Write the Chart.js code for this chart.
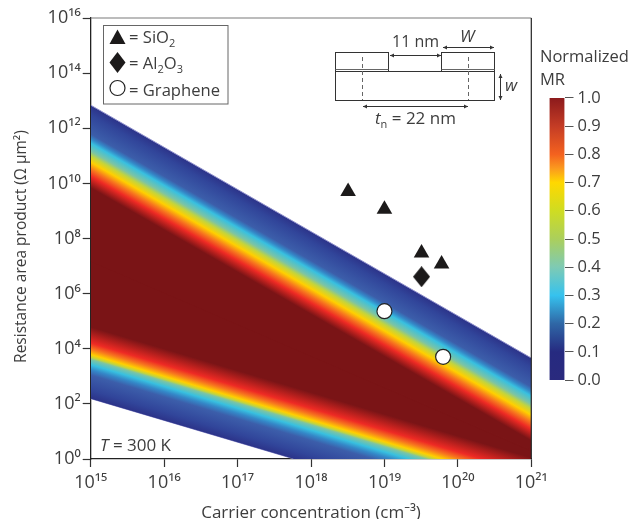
<!DOCTYPE html>
<html>
<head>
<meta charset="utf-8">
<script src="https://cdn.jsdelivr.net/npm/chart.js@4"></script>
<style>
    html, body { margin: 0; padding: 0; background: #fff; }
    #wrap { position: relative; width: 631px; height: 519px; overflow: hidden; }
    #canvasChart { position: absolute; left: 0; top: 0; }
    #canvasBar { position: absolute; left: 540px; top: 84px; }
</style>
</head>
<body>
<div id="wrap">
    <canvas id="canvasChart" width="631" height="519"></canvas>
    <canvas id="canvasBar" width="91" height="310"></canvas>
</div>
<script>
const xTicks = [1e15, 1e16, 1e17, 1e18, 1e19, 1e20, 1e21];
const xTickLabels = ['10¹⁵', '10¹⁶', '10¹⁷', '10¹⁸', '10¹⁹', '10²⁰', '10²¹'];
const yTicks = [1e0, 1e2, 1e4, 1e6, 1e8, 1e10, 1e12, 1e14, 1e16];
const yTickLabels = ['10⁰', '10²', '10⁴', '10⁶', '10⁸', '10¹⁰', '10¹²', '10¹⁴', '10¹⁶'];

// edges of the coloured region, at 1e15 and 1e21
const edgeX = [1e15, 1e21];
const upperEdge = [6.9e12, 4.6e3];
const middleLine = [1.6e7, 2.1];
const lowerEdge = [155, 0.0028];

// decades below the upper edge / above the lower edge for each colour
const upperDepth = [0, 0.35, 1.05, 1.22, 1.38, 1.67, 1.85, 2.07, 2.32, 2.58, 3.0];
const lowerDepth = [0, 0.3, 0.85, 1.05, 1.23, 1.42, 1.5, 1.6, 1.8, 2.02, 2.6];
const bandColors = ['#2c3389', '#31459a', '#3c5eaa', '#3488c8', '#38c0e0', '#7cc4a4', '#c4d43c', '#ffd000', '#f7771e', '#ee2a24', '#7a1416'];

const sio2X = [3.2e18, 1e19, 3.2e19, 6e19];
const sio2Y = [5.05e9, 1.16e9, 3e7, 1.2e7];
const al2o3X = [3.2e19];
const al2o3Y = [4.1e6];
const grapheneX = [1e19, 6.3e19];
const grapheneY = [2.3e5, 5.1e3];

const mrTicks = [0, 0.1, 0.2, 0.3, 0.4, 0.5, 0.6, 0.7, 0.8, 0.9, 1];
const mrStops = [0, 0.1, 0.2, 0.3, 0.4, 0.5, 0.6, 0.7, 0.75, 0.8, 0.9, 1];
const mrColors = ['#2a2a7e', '#262a80', '#2f67a6', '#36c2ee', '#7ecab4', '#abcf5c', '#cfdc22', '#ffd800', '#fb9a1e', '#f4621f', '#c43c25', '#8c1a1c'];

const TEXT = '#3d3d3d';
const FONT = '"Open Sans", "Noto Sans", sans-serif';

const toPoints = (xs, ys) => xs.map((x, i) => ({ x, y: ys[i] }));

// linear gradient running across a sloped band, from the edge inwards
const bandGradient = (chart, edge, depth, dir) => {
    const { ctx, scales } = chart;
    if (!chart.chartArea)
        return bandColors[bandColors.length - 1];
    const x0 = scales.x.getPixelForValue(edgeX[0]);
    const x1 = scales.x.getPixelForValue(edgeX[1]);
    const y0 = scales.y.getPixelForValue(edge[0]);
    const y1 = scales.y.getPixelForValue(edge[1]);
    const slope = (y1 - y0) / (x1 - x0);
    const pxDecade = Math.abs(scales.y.getPixelForValue(1) - scales.y.getPixelForValue(10));
    const total = depth[depth.length - 1] * pxDecade;
    const k = dir * total / (1 + slope * slope);
    const g = ctx.createLinearGradient(x0, y0, x0 - slope * k, y0 + k);
    depth.forEach((d, i) => g.addColorStop(d / depth[depth.length - 1], bandColors[i]));
    return g;
};

// the oxide diamond is taller than it is wide, rectRot can't do that
const diamondMarker = (w, h) => {
    const c = document.createElement('canvas');
    c.width = w;
    c.height = h;
    const g = c.getContext('2d');
    g.fillStyle = '#1c1a1a';
    g.beginPath();
    g.moveTo(w / 2, 0);
    g.lineTo(w, h / 2);
    g.lineTo(w / 2, h);
    g.lineTo(0, h / 2);
    g.closePath();
    g.fill();
    return c;
};

const drawArrow = (ctx, x1, y1, x2, y2) => {
    ctx.beginPath();
    ctx.moveTo(x1, y1);
    ctx.lineTo(x2, y2);
    ctx.stroke();
    const head = (x, y, dx, dy) => {
        ctx.beginPath();
        ctx.moveTo(x, y);
        ctx.lineTo(x - dx * 4 - dy * 2, y - dy * 4 - dx * 2);
        ctx.lineTo(x - dx * 4 + dy * 2, y - dy * 4 + dx * 2);
        ctx.closePath();
        ctx.fill();
    };
    const horizontal = y1 === y2;
    head(x1, y1, horizontal ? -1 : 0, horizontal ? 0 : -1);
    head(x2, y2, horizontal ? 1 : 0, horizontal ? 0 : 1);
};

const textRuns = (ctx, x, y, runs) => {
    ctx.textAlign = 'left';
    ctx.textBaseline = 'alphabetic';
    runs.forEach(r => {
        ctx.font = (r.italic ? 'italic ' : '') + r.size + 'px ' + FONT;
        ctx.fillText(r.text, x, y + (r.dy || 0));
        x += ctx.measureText(r.text).width;
    });
};

// frame, legend box, inset schematic and free text
const annotations = {
    id: 'annotations',
    afterDraw(chart) {
        const { ctx, chartArea: a } = chart;
        ctx.save();

        ctx.strokeStyle = '#7a7a7a';
        ctx.lineWidth = 1.2;
        ctx.beginPath();
        ctx.moveTo(a.left, a.top);
        ctx.lineTo(a.right, a.top);
        ctx.stroke();
        ctx.strokeStyle = '#222';
        ctx.beginPath();
        ctx.moveTo(a.right, a.top);
        ctx.lineTo(a.right, a.bottom);
        ctx.stroke();

        // legend
        ctx.strokeStyle = '#666';
        ctx.fillStyle = '#fff';
        ctx.lineWidth = 1;
        ctx.fillRect(103.5, 25.5, 124.5, 78.5);
        ctx.strokeRect(103.5, 25.5, 124.5, 78.5);
        ctx.fillStyle = '#1c1a1a';
        ctx.beginPath();
        ctx.moveTo(117.5, 29.5);
        ctx.lineTo(125.5, 44);
        ctx.lineTo(109.5, 44);
        ctx.closePath();
        ctx.fill();
        ctx.beginPath();
        ctx.moveTo(117.5, 52);
        ctx.lineTo(125.5, 62.5);
        ctx.lineTo(117.5, 73);
        ctx.lineTo(109.5, 62.5);
        ctx.closePath();
        ctx.fill();
        ctx.beginPath();
        ctx.arc(117.5, 88, 7.5, 0, Math.PI * 2);
        ctx.fillStyle = '#fff';
        ctx.fill();
        ctx.strokeStyle = '#222';
        ctx.lineWidth = 1.2;
        ctx.stroke();

        ctx.fillStyle = TEXT;
        textRuns(ctx, 129, 43, [{ text: '= SiO', size: 16.6 }, { text: '2', size: 11, dy: 4 }]);
        textRuns(ctx, 129, 69, [{ text: '= Al', size: 16.6 }, { text: '2', size: 11, dy: 4 }, { text: 'O', size: 16.6 }, { text: '3', size: 11, dy: 4 }]);
        textRuns(ctx, 129, 96, [{ text: '= Graphene', size: 16.6 }]);
        textRuns(ctx, 100, 451, [{ text: 'T', size: 17, italic: true }, { text: ' = 300 K', size: 17 }]);
        textRuns(ctx, 540, 62, [{ text: 'Normalized', size: 16.5 }]);
        textRuns(ctx, 540, 85, [{ text: 'MR', size: 16.5 }]);

        // inset
        ctx.strokeStyle = '#333';
        ctx.lineWidth = 1;
        ctx.strokeRect(335.5, 52.5, 53, 19);
        ctx.strokeRect(441.5, 52.5, 53, 19);
        ctx.strokeRect(335.5, 71.5, 159, 29);
        ctx.strokeStyle = '#666';
        ctx.beginPath();
        ctx.moveTo(335.5, 69.5);
        ctx.lineTo(388.5, 69.5);
        ctx.moveTo(441.5, 69.5);
        ctx.lineTo(494.5, 69.5);
        ctx.stroke();
        ctx.setLineDash([4, 3]);
        ctx.beginPath();
        ctx.moveTo(362.5, 57);
        ctx.lineTo(362.5, 100);
        ctx.moveTo(468.5, 57);
        ctx.lineTo(468.5, 100);
        ctx.stroke();
        ctx.setLineDash([]);
        ctx.strokeStyle = '#333';
        ctx.fillStyle = '#333';
        drawArrow(ctx, 390, 55.5, 441, 55.5);
        drawArrow(ctx, 443, 47.5, 494, 47.5);
        drawArrow(ctx, 363, 106.5, 468, 106.5);
        drawArrow(ctx, 500.5, 74, 500.5, 100);
        ctx.fillStyle = TEXT;
        textRuns(ctx, 392, 47, [{ text: '11 nm', size: 16 }]);
        textRuns(ctx, 460, 42, [{ text: 'W', size: 17, italic: true }]);
        textRuns(ctx, 505, 91, [{ text: 'w', size: 17, italic: true }]);
        textRuns(ctx, 375, 124, [{ text: 't', size: 17, italic: true }, { text: 'n', size: 11, dy: 4 }, { text: ' = 22 nm', size: 17 }]);
        ctx.restore();
    }
};

new Chart(document.querySelector('#canvasChart'), {
    type: 'scatter',
    data: {
        datasets: [
            {
                label: 'SiO2',
                data: toPoints(sio2X, sio2Y),
                pointStyle: 'triangle',
                pointRadius: 9,
                backgroundColor: '#1c1a1a',
                borderWidth: 0
            },
            {
                label: 'Al2O3',
                data: toPoints(al2o3X, al2o3Y),
                pointStyle: diamondMarker(17, 21),
                backgroundColor: '#1c1a1a',
                borderWidth: 0
            },
            {
                label: 'Graphene',
                data: toPoints(grapheneX, grapheneY),
                pointStyle: 'circle',
                pointRadius: 7.5,
                backgroundColor: '#fff',
                borderColor: '#222',
                borderWidth: 1.2
            },
            {
                type: 'line',
                label: 'upper edge',
                data: toPoints(edgeX, upperEdge),
                borderColor: '#8f90cc',
                borderWidth: 1,
                pointRadius: 0,
                fill: '+1',
                backgroundColor: ctx => bandGradient(ctx.chart, upperEdge, upperDepth, 1)
            },
            {
                type: 'line',
                label: 'middle',
                data: toPoints(edgeX, middleLine),
                borderColor: '#7a1416',
                borderWidth: 2,
                pointRadius: 0,
                fill: '+1',
                backgroundColor: ctx => bandGradient(ctx.chart, lowerEdge, lowerDepth, -1)
            },
            {
                type: 'line',
                label: 'lower edge',
                data: toPoints(edgeX, lowerEdge),
                borderColor: '#8f90cc',
                borderWidth: 1,
                pointRadius: 0,
                fill: false
            }
        ]
    },
    options: {
        responsive: false,
        animation: false,
        layout: { padding: { top: 18, right: 99.7, left: 0, bottom: 0 } },
        plugins: { legend: { display: false }, tooltip: { enabled: false } },
        scales: {
            x: {
                type: 'logarithmic',
                min: 1e15,
                max: 1e21,
                afterBuildTicks: axis => { axis.ticks = xTicks.map(value => ({ value })); },
                afterFit: axis => { axis.height = 60; },
                grid: { drawOnChartArea: false, tickLength: 8, color: '#333', tickWidth: 1.2 },
                border: { color: '#222', width: 1.3 },
                ticks: {
                    autoSkip: false,
                    maxRotation: 0,
                    padding: 5,
                    color: TEXT,
                    font: { family: FONT, size: 18 },
                    callback: (value, index) => xTickLabels[index]
                },
                title: {
                    display: true,
                    text: 'Carrier concentration (cm⁻³)',
                    color: TEXT,
                    font: { family: FONT, size: 17 },
                    padding: { top: 0, bottom: -4 }
                }
            },
            y: {
                type: 'logarithmic',
                min: 1e0,
                max: 1e16,
                afterBuildTicks: axis => { axis.ticks = yTicks.map(value => ({ value })); },
                afterFit: axis => { axis.width = 90.7; },
                grid: { drawOnChartArea: false, tickLength: 8, color: '#333', tickWidth: 1.2 },
                border: { color: '#222', width: 1.3 },
                ticks: {
                    autoSkip: false,
                    padding: 2,
                    color: TEXT,
                    font: { family: FONT, size: 18 },
                    callback: (value, index) => yTickLabels[index]
                },
                title: {
                    display: true,
                    text: 'Resistance area product (Ω μm²)    ',
                    color: TEXT,
                    font: { family: FONT, size: 15.5 },
                    padding: { top: 12, bottom: 0 }
                }
            }
        }
    },
    plugins: [annotations]
});

new Chart(document.querySelector('#canvasBar'), {
    type: 'bar',
    data: {
        labels: ['MR'],
        datasets: [{
            data: [[mrTicks[0], mrTicks[mrTicks.length - 1]]],
            barPercentage: 1,
            categoryPercentage: 1,
            borderWidth: 0,
            backgroundColor: ctx => {
                const chart = ctx.chart;
                if (!chart.chartArea)
                    return mrColors[0];
                const g = chart.ctx.createLinearGradient(0, chart.chartArea.bottom, 0, chart.chartArea.top);
                mrStops.forEach((s, i) => g.addColorStop(s, mrColors[i]));
                return g;
            }
        }]
    },
    options: {
        responsive: false,
        animation: false,
        layout: { padding: { top: 10, bottom: 10, left: 9.5, right: 0 } },
        plugins: { legend: { display: false }, tooltip: { enabled: false } },
        scales: {
            x: { display: false },
            y: {
                position: 'right',
                min: 0,
                max: 1,
                afterBuildTicks: axis => { axis.ticks = mrTicks.map(value => ({ value })); },
                afterFit: axis => { axis.width = 66.5; },
                grid: { drawOnChartArea: false, tickLength: 9, color: '#555' },
                border: { display: false },
                ticks: {
                    padding: 4,
                    color: TEXT,
                    font: { family: FONT, size: 16.5 },
                    callback: value => value.toFixed(1)
                }
            }
        }
    }
});
</script>
</body>
</html>
